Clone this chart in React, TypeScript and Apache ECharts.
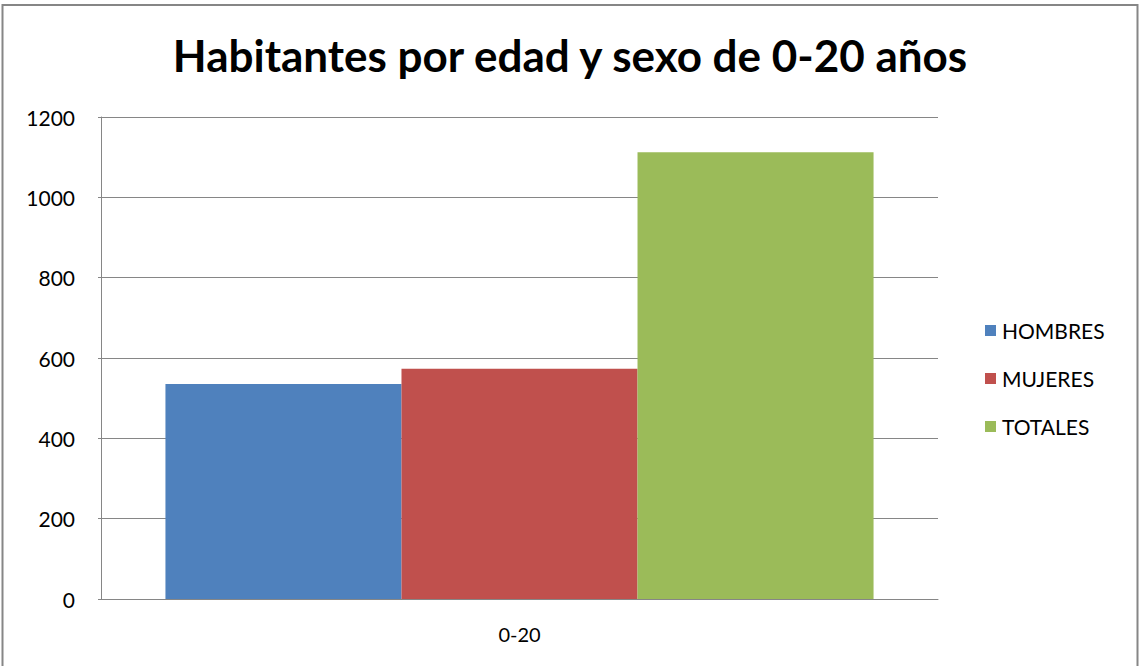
import React, { useEffect, useRef } from "react";
import * as echarts from "echarts";

const categories = ["0-20"];
const seriesNames = ["HOMBRES", "MUJERES", "TOTALES"];
const hombres = [535];
const mujeres = [573];
const totales = [1112];
const colors = ["#4F81BD", "#C0504D", "#9BBB59"];
const titleText = "Habitantes por edad y sexo de 0-20 años";

export default function App() {
  const ref = useRef<HTMLDivElement>(null);
  useEffect(() => {
    if (!ref.current) return;
    const chart = echarts.init(ref.current, undefined, { renderer: "svg" });
    const values = [hombres, mujeres, totales];
    chart.setOption({
      animation: false,
      backgroundColor: "#ffffff",
      textStyle: { fontFamily: "Lato" },
      title: {
        text: titleText,
        left: "center",
        top: 28,
        textStyle: { fontFamily: "Lato", fontWeight: "bold", fontSize: 44, color: "#000" },
      },
      graphic: [
        {
          type: "rect",
          shape: { x: 2.5, y: 5, width: 1135, height: 680 },
          style: { fill: "none", stroke: "#868686", lineWidth: 2 },
          silent: true,
        },
      ],
      legend: {
        orient: "vertical",
        left: 980,
        top: 315,
        itemGap: 27,
        itemWidth: 11,
        itemHeight: 11,
        icon: "rect",
        textStyle: { fontFamily: "Lato", fontSize: 21, color: "#000", padding: [0, 0, 0, 1] },
        data: seriesNames,
      },
      grid: { left: 101, right: 202, top: 117, bottom: 67 },
      xAxis: {
        type: "category",
        data: categories,
        axisLine: { lineStyle: { color: "#868686" } },
        axisTick: { show: false },
        axisLabel: { fontFamily: "Lato", fontSize: 20, color: "#000", margin: 25 },
      },
      yAxis: {
        type: "value",
        min: 0,
        max: 1200,
        interval: 200,
        axisLine: { show: true, lineStyle: { color: "#868686" } },
        axisTick: { show: true, inside: false, length: 3, lineStyle: { color: "#868686" } },
        splitLine: { lineStyle: { color: "#868686" } },
        axisLabel: {
          fontFamily: "Lato",
          fontSize: 21,
          color: "#000",
          margin: 26,
          formatter: (v: number) => String(v),
        },
      },
      series: seriesNames.map((name, i) => ({
        name,
        type: "bar",
        data: values[i],
        barGap: "0%",
        barCategoryGap: "15.4%",
        itemStyle: { color: colors[i] },
      })),
    });
    return () => chart.dispose();
  }, []);
  return <div ref={ref} style={{ position: "fixed", left: 0, top: 0, width: 1140, height: 666 }} />;
}
